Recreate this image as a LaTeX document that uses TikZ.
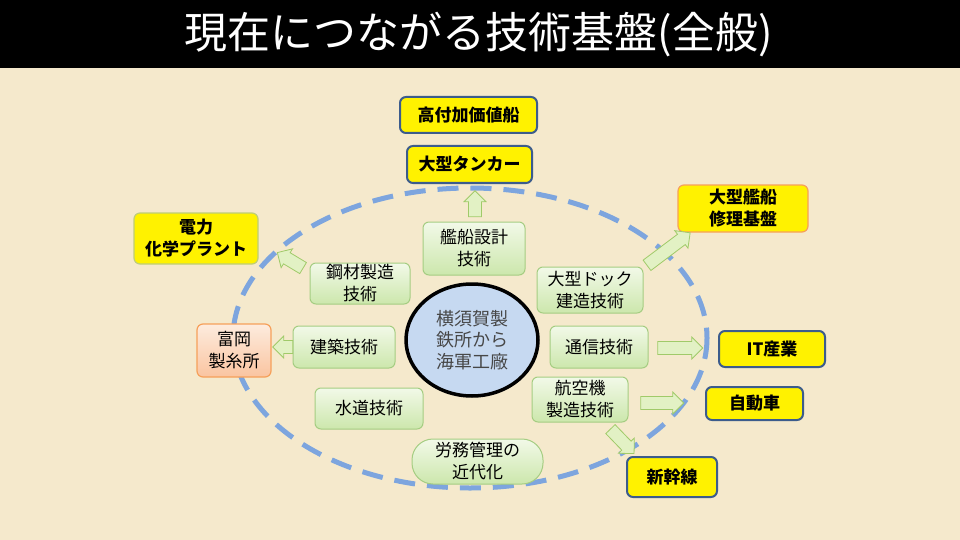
\documentclass[tikz,border=0pt]{standalone}
\usepackage{fontspec}
\setmainfont{Noto Sans CJK JP}
\usetikzlibrary{shapes.arrows,shapes.geometric}
\definecolor{bgcol}{RGB}{245,233,204}
\definecolor{dashblue}{RGB}{125,165,222}
\definecolor{greentop}{RGB}{242,249,232}
\definecolor{greenbot}{RGB}{204,231,172}
\definecolor{greenline}{RGB}{165,205,130}
\definecolor{navyline}{RGB}{60,92,140}
\definecolor{oliveline}{RGB}{190,205,120}
\definecolor{orangeline}{RGB}{246,160,90}
\definecolor{peachtop}{RGB}{253,236,222}
\definecolor{peachbot}{RGB}{250,196,160}
\definecolor{circfill}{RGB}{198,217,241}
\definecolor{arrowfill}{RGB}{226,241,196}
\definecolor{arrowline}{RGB}{160,202,105}
\begin{document}
\begin{tikzpicture}[x=1pt,y=-1pt,
  greenbox/.style={draw=greenline, line width=1pt, rounded corners=6pt,
    top color=greentop, bottom color=greenbot, align=center,
    font=\fontsize{17}{22}\selectfont, inner sep=0pt},
  yellowbox/.style={draw=navyline, line width=2pt, rounded corners=6pt,
    fill=yellow, align=center, font=\fontsize{17}{22}\selectfont\bfseries, inner sep=0pt},
  fatarrow/.style={single arrow, draw=arrowline, fill=arrowfill, line width=0.8pt,
    minimum width=22pt, single arrow head extend=4.5pt, inner xsep=0pt, inner ysep=6pt,
    minimum height=#1},
  sz/.style 2 args={minimum width=#1pt, minimum height=#2pt}
]
\fill[bgcol] (0,0) rectangle (960,540);
\useasboundingbox (0,0) rectangle (960,540);
\fill[black] (0,0) rectangle (960,68);
\node[text=white, font=\fontsize{43}{48}\selectfont] (title) at (479,35) {現在につながる技術基盤(全般)};

% dashed ellipse
\draw[dashblue, line width=5pt, dash pattern=on 21pt off 12pt] (470,338) ellipse [x radius=237, y radius=150];

% outcome boxes
\node[yellowbox, sz={137}{36}] (hv) at (468.5,115) {高付加価値船};
\node[yellowbox, sz={125}{37}] (tanker) at (469.5,164.5) {大型タンカー};
\node[yellowbox, draw=oliveline, line width=1.2pt, sz={124}{51}] (denryoku) at (196,238.5) {電力\\化学プラント};
\node[yellowbox, draw=orangeline, line width=1.2pt, sz={130}{47}] (repair) at (743,208.5) {大型艦船\\修理基盤};
\node[yellowbox, sz={106}{36}] (it) at (772,349) {IT産業};
\node[yellowbox, sz={97}{33}] (car) at (754.5,403.5) {自動車};
\node[yellowbox, sz={90}{40}] (shinkansen) at (672,477) {新幹線};
\node[draw=orangeline, line width=1.2pt, rounded corners=6pt, top color=peachtop, bottom color=peachbot,
  align=center, font=\fontsize{17}{22}\selectfont, inner sep=0pt, sz={74}{53}] (tomioka) at (234,350.5) {富岡\\製糸所};

% technology boxes
\node[greenbox, sz={102}{53}] (kansen) at (474,248.5) {艦船設計\\技術};
\node[greenbox, sz={100}{41}] (kozai) at (360,283.5) {鋼材製造\\技術};
\node[greenbox, sz={106}{46}] (dock) at (590,290) {大型ドック\\建造技術};
\node[greenbox, sz={102}{42}] (kenchiku) at (344,347) {建築技術};
\node[greenbox, sz={98}{42}] (tsushin) at (599,347) {通信技術};
\node[greenbox, sz={108}{41}] (suido) at (369,408.5) {水道技術};
\node[greenbox, sz={96}{45}] (koku) at (580,399.5) {航空機\\製造技術};
\node[greenbox, rounded corners=21pt, sz={131}{45}] (romu) at (477.5,461.5) {労務管理の\\近代化};

% central ellipse
\node[ellipse, draw=black, line width=3.5pt, fill=circfill, minimum width=132pt, minimum height=112pt,
  inner sep=0pt, align=center, text=black!72, font=\fontsize{18}{21.5}\selectfont] (center) at (472,340)
  {横須賀製\\鉄所から\\海軍工廠};

% fat arrows
\node[fatarrow=26pt, rotate=90] (a1) at (475,207) {};
\node[fatarrow=30pt, rotate=149] (a2) at (293,262) {};
\node[fatarrow=54pt, rotate=37] (a3) at (666,251) {};
\node[fatarrow=20pt, rotate=180] (a4) at (286,347) {};
\node[fatarrow=45pt] (a5) at (677,348) {};
\node[fatarrow=43pt] (a6) at (659,403) {};
\node[fatarrow=34pt, rotate=-46] (a7) at (620,439) {};
\end{tikzpicture}
\end{document}
